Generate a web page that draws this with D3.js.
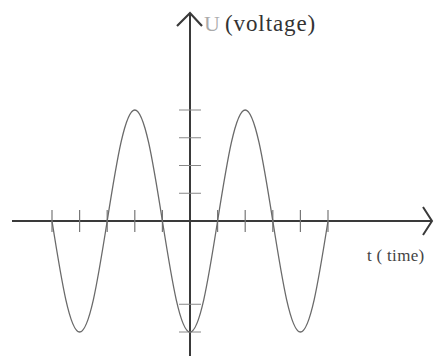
<!DOCTYPE html>
<html>
<head>
<meta charset="utf-8">
<script src="https://cdn.jsdelivr.net/npm/d3@7"></script>
<style>
  body { margin: 0; background: #fff; }
  svg { display: block; }
</style>
</head>
<body>
<svg id="chart" width="434" height="361"></svg>
<script>
// wave samples (t in tick units, U in tick units)
const tValues = [-5, -4.5, -4, -3.5, -3, -2.5, -2, -1.5, -1, -0.5, 0, 0.5, 1, 1.5, 2, 2.5, 3, 3.5, 4, 4.5, 5];
const uValues = [0, -2.83, -4, -2.83, 0, 2.83, 4, 2.83, 0, -2.83, -4, -2.83, 0, 2.83, 4, 2.83, 0, -2.83, -4, -2.83, 0];
const xTicks = [-5, -4, -3, -2, -1, 1, 2, 3, 4, 5];
const yTicks = [-4, -3, 1, 2, 3, 4];
const yLabel = "(voltage)";
const yLetter = "U";
const xLabel = "t ( time)";

const svg = d3.select("#chart");
const serif = '"Liberation Serif"';

const x = d3.scaleLinear().domain([-5, 5]).range([52, 328]);
const y = d3.scaleLinear().domain([-4, 4]).range([332, 110]);

const axisColor = "#3a3a3a";
const waveColor = "#6a6a6a";

// x axis line
svg.append("line")
  .attr("x1", 12).attr("x2", 432)
  .attr("y1", y(0)).attr("y2", y(0))
  .attr("stroke", axisColor).attr("stroke-width", 2);

// right arrow head
svg.append("path")
  .attr("d", `M423,${y(0) - 14} L432,${y(0)} L423,${y(0) + 14}`)
  .attr("fill", "none").attr("stroke", axisColor).attr("stroke-width", 2);

// y axis line
svg.append("line")
  .attr("x1", x(0)).attr("x2", x(0))
  .attr("y1", 14).attr("y2", 356)
  .attr("stroke", axisColor).attr("stroke-width", 2);

// up arrow head
svg.append("path")
  .attr("d", `M${x(0) - 13},26 L${x(0)},13 L${x(0) + 12},26`)
  .attr("fill", "none").attr("stroke", axisColor).attr("stroke-width", 2.2);

// x ticks
svg.selectAll(".xtick").data(xTicks).enter()
  .append("line")
  .attr("class", "xtick")
  .attr("x1", d => x(d)).attr("x2", d => x(d))
  .attr("y1", y(0) - 11).attr("y2", y(0) + 11)
  .attr("stroke", "#777").attr("stroke-width", 1.2);

// y ticks
svg.selectAll(".ytick").data(yTicks).enter()
  .append("line")
  .attr("class", "ytick")
  .attr("x1", x(0) - 11).attr("x2", x(0) + 11)
  .attr("y1", d => y(d)).attr("y2", d => y(d))
  .attr("stroke", "#888").attr("stroke-width", 1);

// wave
const pts = tValues.map((t, i) => [t, uValues[i]]);
const line = d3.line()
  .x(d => x(d[0]))
  .y(d => y(d[1]))
  .curve(d3.curveNatural);

svg.append("path")
  .datum(pts)
  .attr("d", line)
  .attr("fill", "none")
  .attr("stroke", waveColor)
  .attr("stroke-width", 1.3);

// labels
svg.append("text")
  .attr("x", 204).attr("y", 31)
  .style("font-family", serif)
  .style("font-size", "22px")
  .attr("fill", "#aaa")
  .text(yLetter);

svg.append("text")
  .attr("x", 225).attr("y", 31)
  .style("font-family", serif)
  .style("font-size", "23px")
  .style("letter-spacing", "0.9px")
  .attr("fill", "#333")
  .text(yLabel);

svg.append("text")
  .attr("x", 367).attr("y", 261)
  .style("font-family", serif)
  .style("font-size", "17px")
  .style("letter-spacing", "0.3px")
  .attr("fill", "#444")
  .text(xLabel);
</script>
</body>
</html>
